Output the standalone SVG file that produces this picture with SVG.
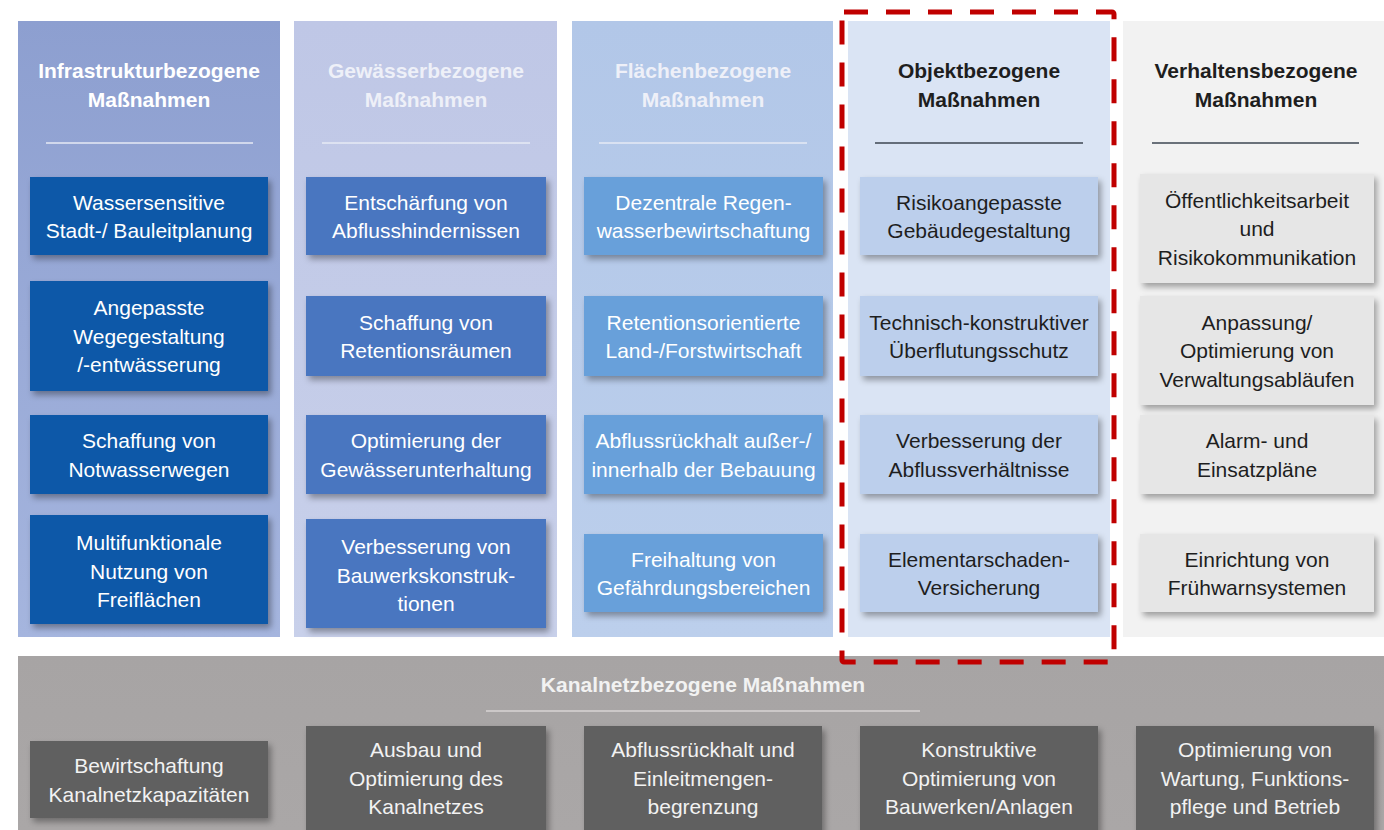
<svg xmlns="http://www.w3.org/2000/svg" width="1384" height="830" viewBox="0 0 1384 830">
<defs>
<filter id="sh" x="-10%" y="-10%" width="125%" height="130%">
<feDropShadow dx="3" dy="4" stdDeviation="3" flood-color="#000" flood-opacity="0.35"/>
</filter>
<linearGradient id="g1" x1="0" y1="0" x2="0" y2="1"><stop offset="0" stop-color="#8d9fd0"/><stop offset="1" stop-color="#a5b5de"/></linearGradient>
<linearGradient id="g2" x1="0" y1="0" x2="0" y2="1"><stop offset="0" stop-color="#bfc7e6"/><stop offset="1" stop-color="#c8d0ea"/></linearGradient>
<linearGradient id="g3" x1="0" y1="0" x2="0" y2="1"><stop offset="0" stop-color="#b2c7e8"/><stop offset="1" stop-color="#bccfec"/></linearGradient>
<linearGradient id="gb" x1="0" y1="0" x2="0" y2="1"><stop offset="0" stop-color="#a7a4a4"/><stop offset="1" stop-color="#aaa7a7"/></linearGradient>
</defs>
<style>
text{font-family:"Liberation Sans",Arial,sans-serif;font-size:21px;text-anchor:middle}
.h{font-weight:bold}
.w{fill:#ffffff}
.hw2{fill:#eef0f8}
.d{fill:#1e1e1e}
.b1{fill:#1158a8}
.b2{fill:#4a76c0}
.b3{fill:#67a0da}
.b4{fill:#bccfec}
.b5{fill:#e6e6e6}
.b6{fill:#606060}
.bx{filter:url(#sh)}
.lw{stroke:#e6eaf5;stroke-width:1.5}
.ld{stroke:#3c4652;stroke-width:1.5}
.tl{fill:#f2f2f2}
</style>
<rect width="1384" height="830" fill="#ffffff"/>

<!-- column backgrounds -->
<g id="columns">
<rect x="18" y="21" width="262" height="616" fill="url(#g1)"/>
<rect x="294" y="21" width="263" height="616" fill="url(#g2)"/>
<rect x="572" y="21" width="261" height="616" fill="url(#g3)"/>
<rect x="848" y="21" width="262" height="616" fill="#dae4f4"/>
<rect x="1123" y="21" width="261" height="616" fill="#f2f2f2"/>
</g>

<!-- headers -->
<g id="header-infrastruktur">
<text class="h w" x="149" y="78">Infrastrukturbezogene</text>
<text class="h w" x="149" y="107">Maßnahmen</text>
<line class="lw" x1="46" y1="143" x2="253" y2="143"/>
</g>
<g id="header-gewaesser">
<text class="h hw2" x="426" y="78">Gewässerbezogene</text>
<text class="h hw2" x="426" y="107">Maßnahmen</text>
<line class="lw" x1="322" y1="143" x2="530" y2="143"/>
</g>
<g id="header-flaechen">
<text class="h hw2" x="703" y="78">Flächenbezogene</text>
<text class="h hw2" x="703" y="107">Maßnahmen</text>
<line class="lw" x1="599" y1="143" x2="807" y2="143"/>
</g>
<g id="header-objekt">
<text class="h d" x="979" y="78">Objektbezogene</text>
<text class="h d" x="979" y="107">Maßnahmen</text>
<line class="ld" x1="875" y1="143" x2="1083" y2="143"/>
</g>
<g id="header-verhalten">
<text class="h d" x="1256" y="78">Verhaltensbezogene</text>
<text class="h d" x="1256" y="107">Maßnahmen</text>
<line class="ld" x1="1152" y1="143" x2="1359" y2="143"/>
</g>

<!-- column 1 -->
<g id="n-wassersensitive"><rect class="b1 bx" x="30" y="177" width="238" height="78"/>
<text class="w" x="149" y="209.5">Wassersensitive</text><text class="w" x="149" y="238">Stadt-/ Bauleitplanung</text></g>
<g id="n-wegegestaltung"><rect class="b1 bx" x="30" y="281" width="238" height="110"/>
<text class="w" x="149" y="315">Angepasste</text><text class="w" x="149" y="343.5">Wegegestaltung</text><text class="w" x="149" y="372">/-entwässerung</text></g>
<g id="n-notwasserwege"><rect class="b1 bx" x="30" y="415" width="238" height="79"/>
<text class="w" x="149" y="448">Schaffung von</text><text class="w" x="149" y="476.5">Notwasserwegen</text></g>
<g id="n-freiflaechen"><rect class="b1 bx" x="30" y="515" width="238" height="109"/>
<text class="w" x="149" y="550">Multifunktionale</text><text class="w" x="149" y="578.5">Nutzung von</text><text class="w" x="149" y="607">Freiflächen</text></g>

<!-- column 2 -->
<g id="n-abflusshindernisse"><rect class="b2 bx" x="306" y="177" width="240" height="78"/>
<text class="w" x="426" y="209.5">Entschärfung von</text><text class="w" x="426" y="238">Abflusshindernissen</text></g>
<g id="n-retentionsraeume"><rect class="b2 bx" x="306" y="296" width="240" height="80"/>
<text class="w" x="426" y="329.5">Schaffung von</text><text class="w" x="426" y="358">Retentionsräumen</text></g>
<g id="n-gewaesserunterhaltung"><rect class="b2 bx" x="306" y="415" width="240" height="79"/>
<text class="w" x="426" y="448">Optimierung der</text><text class="w" x="426" y="476.5">Gewässerunterhaltung</text></g>
<g id="n-bauwerkskonstruktionen"><rect class="b2 bx" x="306" y="519" width="240" height="109"/>
<text class="w" x="426" y="554">Verbesserung von</text><text class="w" x="426" y="582.5">Bauwerkskonstruk-</text><text class="w" x="426" y="611">tionen</text></g>

<!-- column 3 -->
<g id="n-regenwasser"><rect class="b3 bx" x="584" y="177" width="239" height="78"/>
<text class="w" x="703.5" y="209.5">Dezentrale Regen-</text><text class="w" x="703.5" y="238">wasserbewirtschaftung</text></g>
<g id="n-landwirtschaft"><rect class="b3 bx" x="584" y="296" width="239" height="80"/>
<text class="w" x="703.5" y="329.5">Retentionsorientierte</text><text class="w" x="703.5" y="358">Land-/Forstwirtschaft</text></g>
<g id="n-abflussrueckhalt"><rect class="b3 bx" x="584" y="415" width="239" height="79"/>
<text class="w" x="703.5" y="448">Abflussrückhalt außer-/</text><text class="w" x="703.5" y="476.5">innerhalb der Bebauung</text></g>
<g id="n-gefaehrdungsbereiche"><rect class="b3 bx" x="584" y="534" width="239" height="78"/>
<text class="w" x="703.5" y="566.5">Freihaltung von</text><text class="w" x="703.5" y="595">Gefährdungsbereichen</text></g>

<!-- column 4 -->
<g id="n-gebaeudegestaltung"><rect class="b4 bx" x="860" y="177" width="238" height="78"/>
<text class="d" x="979" y="209.5">Risikoangepasste</text><text class="d" x="979" y="238">Gebäudegestaltung</text></g>
<g id="n-ueberflutungsschutz"><rect class="b4 bx" x="860" y="296" width="238" height="80"/>
<text class="d" x="979" y="329.5">Technisch-konstruktiver</text><text class="d" x="979" y="358">Überflutungsschutz</text></g>
<g id="n-abflussverhaeltnisse"><rect class="b4 bx" x="860" y="415" width="238" height="79"/>
<text class="d" x="979" y="448">Verbesserung der</text><text class="d" x="979" y="476.5">Abflussverhältnisse</text></g>
<g id="n-versicherung"><rect class="b4 bx" x="860" y="534" width="238" height="78"/>
<text class="d" x="979" y="566.5">Elementarschaden-</text><text class="d" x="979" y="595">Versicherung</text></g>

<!-- column 5 -->
<g id="n-oeffentlichkeitsarbeit"><rect class="b5 bx" x="1140" y="174" width="234" height="109"/>
<text class="d" x="1257" y="207.5">Öffentlichkeitsarbeit</text><text class="d" x="1257" y="236">und</text><text class="d" x="1257" y="264.5">Risikokommunikation</text></g>
<g id="n-verwaltungsablaeufe"><rect class="b5 bx" x="1140" y="296" width="234" height="109"/>
<text class="d" x="1257" y="329.5">Anpassung/</text><text class="d" x="1257" y="358">Optimierung von</text><text class="d" x="1257" y="386.5">Verwaltungsabläufen</text></g>
<g id="n-alarmplaene"><rect class="b5 bx" x="1140" y="415" width="234" height="79"/>
<text class="d" x="1257" y="448">Alarm- und</text><text class="d" x="1257" y="476.5">Einsatzpläne</text></g>
<g id="n-fruehwarnsysteme"><rect class="b5 bx" x="1140" y="534" width="234" height="78"/>
<text class="d" x="1257" y="566.5">Einrichtung von</text><text class="d" x="1257" y="595">Frühwarnsystemen</text></g>

<!-- bottom band -->
<g id="kanalnetz">
<rect x="18" y="656" width="1366" height="174" fill="url(#gb)"/>
<text class="h tl" x="703" y="692">Kanalnetzbezogene Maßnahmen</text>
<line x1="486" y1="711" x2="920" y2="711" stroke="#d8d5d5" stroke-width="1.5"/>
</g>
<g id="n-kanalnetzkapazitaeten"><rect class="b6 bx" x="30" y="741" width="238" height="77"/>
<text class="tl" x="149" y="773">Bewirtschaftung</text><text class="tl" x="149" y="801.5">Kanalnetzkapazitäten</text></g>
<g id="n-kanalnetzausbau"><rect class="b6 bx" x="306" y="726" width="240" height="114"/>
<text class="tl" x="426" y="757">Ausbau und</text><text class="tl" x="426" y="785.5">Optimierung des</text><text class="tl" x="426" y="814">Kanalnetzes</text></g>
<g id="n-einleitmengen"><rect class="b6 bx" x="584" y="726" width="238" height="114"/>
<text class="tl" x="703" y="757">Abflussrückhalt und</text><text class="tl" x="703" y="785.5">Einleitmengen-</text><text class="tl" x="703" y="814">begrenzung</text></g>
<g id="n-bauwerke"><rect class="b6 bx" x="860" y="726" width="238" height="114"/>
<text class="tl" x="979" y="757">Konstruktive</text><text class="tl" x="979" y="785.5">Optimierung von</text><text class="tl" x="979" y="814">Bauwerken/Anlagen</text></g>
<g id="n-wartung"><rect class="b6 bx" x="1136" y="726" width="238" height="114"/>
<text class="tl" x="1255" y="757">Optimierung von</text><text class="tl" x="1255" y="785.5">Wartung, Funktions-</text><text class="tl" x="1255" y="814">pflege und Betrieb</text></g>

<!-- highlight -->
<g id="highlight">
<rect x="842" y="12" width="272" height="650" fill="none" stroke="#c00000" stroke-width="5" stroke-dasharray="24 18" rx="2"/>
</g>
</svg>
